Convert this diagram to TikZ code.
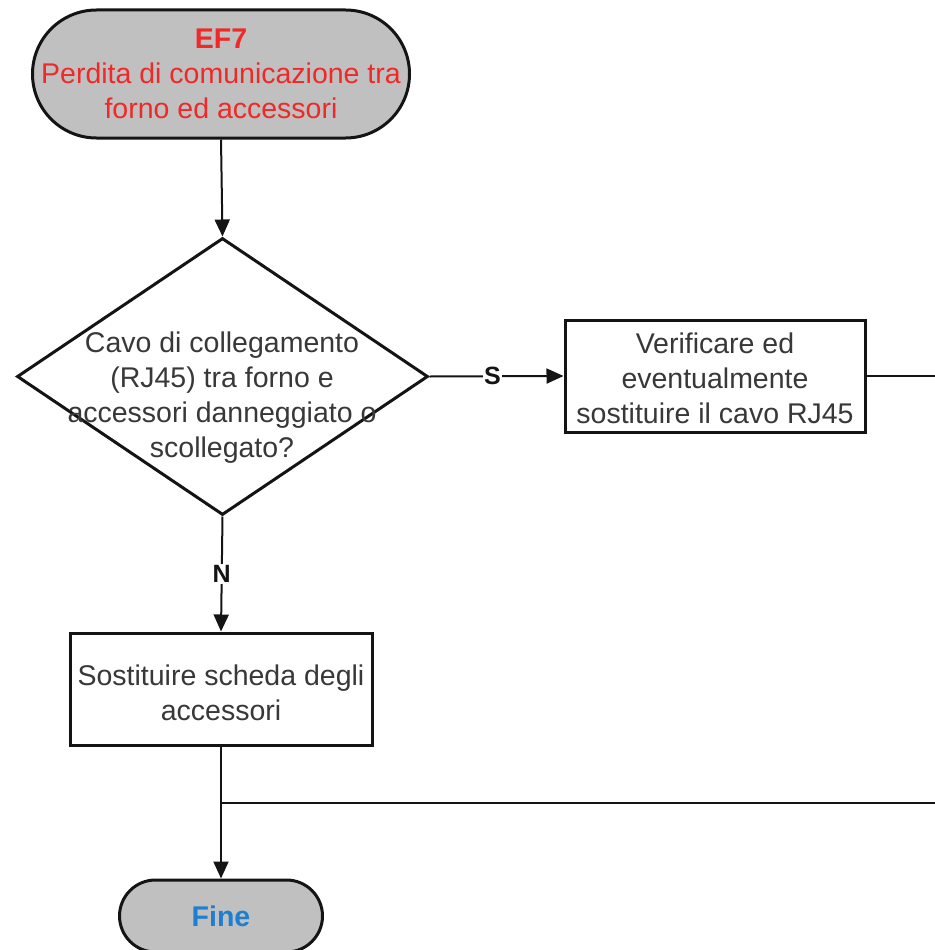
\documentclass[tikz,border=0pt]{standalone}
\usepackage{fontspec}
\setmainfont{Liberation Sans}
\usetikzlibrary{shapes.geometric,arrows.meta}
\definecolor{termfill}{HTML}{C0C0C0}
\definecolor{titlered}{HTML}{F02828}
\definecolor{endblue}{HTML}{1E7FD0}
\definecolor{bodytext}{HTML}{383838}
\definecolor{edge}{HTML}{141414}
\begin{document}
\begin{tikzpicture}[x=1pt,y=-1pt,
  txt/.style={font=\fontsize{28.5}{35}\selectfont, text=bodytext, align=center, inner sep=0pt},
  terminal/.style={draw=edge, line width=3pt, fill=termfill, rectangle, inner sep=0pt},
  process/.style={draw=edge, line width=3pt, fill=white, rectangle, inner sep=0pt,
    minimum width=300pt, minimum height=112pt},
  decision/.style={draw=edge, line width=3pt, fill=white, diamond, inner sep=0pt,
    minimum width=411pt, minimum height=277pt},
  flow/.style={draw=edge, line width=2pt},
  arrowflow/.style={flow, -{Triangle[length=17pt,width=15pt]}},
  branch/.style={font=\fontsize{25}{28}\selectfont\bfseries, text=edge, fill=white, inner sep=1.5pt}
]
\useasboundingbox (0,0) rectangle (934,950);

% start terminal
\node[terminal, minimum width=377pt, minimum height=128pt, rounded corners=64pt] (start) at (221,74) {};
\node[txt, text=titlered] (starttxt) at (start.center)
  {\textbf{EF7}\\Perdita di comunicazione tra\\forno ed accessori};

% decision
\node[decision] (dec) at (222.5,376.5) {};
\node[txt] (dectxt) at (222,398)
  {Cavo di collegamento\\(RJ45) tra forno e\\accessori danneggiato o\\scollegato?};

% process boxes
\node[process] (verify) at (715,376) {};
\node[txt] (verifytxt) at (715,378)
  {Verificare ed\\eventualmente\\sostituire il cavo RJ45};

\node[process, minimum width=302pt] (replace) at (221,689) {};
\node[txt] (replacetxt) at (221,693)
  {Sostituire scheda degli\\accessori};

% end terminal
\node[terminal, minimum width=203pt, minimum height=72pt, rounded corners=36pt] (fine) at (221,916) {};
\node[txt, text=endblue, font=\fontsize{28.5}{35}\selectfont\bfseries] (finetxt) at (fine.center) {Fine};

% off-page return path
\coordinate (outA) at (938,376);
\coordinate (outB) at (938,803);
\coordinate (join) at (221,803);

% connectors
\draw[arrowflow] (start.south) -- (dec.north);
\draw[arrowflow] (dec.east) -- node[branch, pos=0.47] {S} (verify.west);
\draw[arrowflow] (dec.south) -- node[branch, pos=0.5] {N} (replace.north);
\draw[arrowflow] (replace.south) -- (fine.north);
\draw[flow] (verify.east) -- (outA);
\draw[flow] (outB) -- (join);
\end{tikzpicture}
\end{document}
